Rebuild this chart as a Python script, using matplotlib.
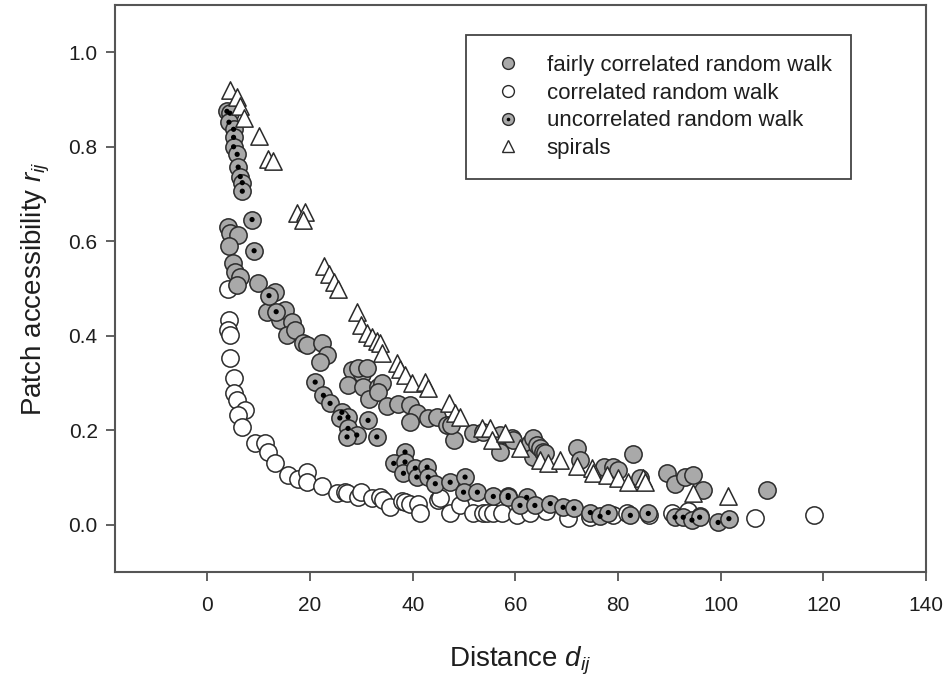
import matplotlib
matplotlib.use("Agg")
import matplotlib.pyplot as plt
from matplotlib.lines import Line2D
from matplotlib.legend_handler import HandlerTuple

plt.rcParams['font.family'] = ['Liberation Sans', 'DejaVu Sans']
plt.rcParams['mathtext.fontset'] = 'custom'
plt.rcParams['mathtext.rm'] = 'Liberation Sans'
plt.rcParams['mathtext.it'] = 'Liberation Sans:italic'

# fairly correlated random walk
fcrw_d = [4.0, 4.4, 6.0, 4.2, 5.0, 5.4, 6.4, 5.8, 9.9, 13.2, 11.6, 14.2, 15.2, 16.5,
          15.5, 17.1, 18.7, 19.4, 22.4, 23.3, 21.9, 28.2, 30.1, 29.4, 31.1, 27.4,
          30.3, 33.3, 34.0, 31.4, 33.3, 35.0, 37.2, 39.5, 40.8, 39.5, 43.0, 44.7,
          46.7, 48.0, 47.5, 51.8, 53.7, 57.0, 57.0, 59.3, 59.6, 62.9, 63.5, 63.5,
          64.2, 64.8, 65.4, 65.8, 72.0, 72.6, 77.2, 79.1, 80.0, 83.0, 84.3, 89.5,
          91.1, 93.0, 94.6, 96.5, 109.0]
fcrw_r = [0.631, 0.618, 0.614, 0.589, 0.555, 0.536, 0.525, 0.508, 0.512, 0.493,
          0.451, 0.434, 0.455, 0.430, 0.402, 0.413, 0.385, 0.380, 0.385, 0.360,
          0.345, 0.328, 0.320, 0.332, 0.332, 0.296, 0.292, 0.292, 0.300, 0.266,
          0.281, 0.252, 0.255, 0.253, 0.236, 0.218, 0.225, 0.228, 0.211, 0.180,
          0.211, 0.194, 0.196, 0.190, 0.154, 0.183, 0.180, 0.173, 0.143, 0.183,
          0.169, 0.162, 0.154, 0.151, 0.162, 0.137, 0.122, 0.122, 0.115, 0.150,
          0.100, 0.109, 0.087, 0.102, 0.105, 0.073, 0.073]

# correlated random walk
crw_d = [4.1, 4.2, 4.1, 4.4, 4.4, 5.1, 5.1, 5.8, 7.4, 6.0, 6.8, 9.3, 11.2, 11.8,
         13.2, 15.7, 17.6, 19.4, 19.4, 22.4, 25.2, 26.8, 27.2, 29.3, 30.0, 32.1,
         33.6, 34.3, 35.6, 37.9, 38.5, 39.5, 41.1, 41.4, 45.0, 45.4, 47.3, 49.3,
         51.8, 53.7, 54.5, 55.7, 57.4, 60.4, 62.8, 66.0, 70.3, 74.6, 79.1, 81.8,
         86.0, 90.5, 93.7, 96.0, 106.7, 118.2]
crw_r = [0.500, 0.434, 0.413, 0.402, 0.353, 0.311, 0.279, 0.264, 0.243, 0.232,
         0.207, 0.173, 0.173, 0.154, 0.130, 0.105, 0.098, 0.111, 0.090, 0.083,
         0.067, 0.069, 0.067, 0.058, 0.069, 0.056, 0.058, 0.052, 0.037, 0.051,
         0.048, 0.045, 0.045, 0.026, 0.052, 0.056, 0.026, 0.041, 0.026, 0.026,
         0.026, 0.026, 0.024, 0.020, 0.024, 0.030, 0.014, 0.016, 0.020, 0.024,
         0.020, 0.024, 0.030, 0.018, 0.014, 0.020]

# uncorrelated random walk
urw_d = [3.8, 4.4, 4.2, 5.1, 5.1, 5.1, 5.8, 6.0, 6.4, 6.8, 6.8, 8.7, 9.1, 12.0,
         13.4, 21.0, 22.6, 23.9, 26.2, 27.4, 25.8, 27.4, 29.1, 27.2, 31.3, 33.0,
         38.5, 36.3, 38.5, 38.2, 40.5, 40.8, 42.8, 43.0, 44.4, 47.3, 50.2, 49.9,
         52.6, 55.7, 58.6, 58.6, 62.2, 60.9, 63.8, 66.8, 69.3, 71.4, 74.6, 76.5,
         78.1, 82.4, 85.9, 91.1, 92.7, 94.4, 95.9, 99.5, 101.6]
urw_r = [0.875, 0.871, 0.852, 0.837, 0.820, 0.800, 0.784, 0.757, 0.737, 0.724,
         0.706, 0.646, 0.580, 0.485, 0.451, 0.302, 0.274, 0.257, 0.238, 0.228,
         0.226, 0.204, 0.190, 0.186, 0.221, 0.186, 0.154, 0.130, 0.133, 0.109,
         0.120, 0.101, 0.122, 0.101, 0.087, 0.090, 0.101, 0.069, 0.069, 0.060,
         0.062, 0.058, 0.058, 0.041, 0.041, 0.045, 0.037, 0.035, 0.026, 0.018,
         0.026, 0.020, 0.024, 0.016, 0.016, 0.010, 0.016, 0.005, 0.013]

# spirals
spi_d = [4.4, 5.7, 6.4, 7.2, 10.1, 11.8, 12.8, 17.5, 19.1, 18.7, 22.7, 23.6, 24.6,
         25.5, 29.1, 30.0, 31.0, 32.0, 33.0, 33.6, 34.0, 36.9, 37.5, 38.5, 39.8,
         42.4, 43.0, 47.1, 48.3, 49.3, 53.5, 55.1, 55.4, 58.0, 60.9, 64.8, 66.4,
         68.7, 72.0, 74.9, 75.2, 77.9, 80.0, 82.0, 84.9, 85.3, 94.6, 101.5]
spi_r = [0.920, 0.905, 0.886, 0.860, 0.822, 0.774, 0.770, 0.660, 0.663, 0.646,
         0.547, 0.530, 0.514, 0.500, 0.450, 0.423, 0.405, 0.398, 0.390, 0.385,
         0.363, 0.342, 0.330, 0.317, 0.300, 0.302, 0.290, 0.257, 0.236, 0.228,
         0.204, 0.204, 0.180, 0.194, 0.162, 0.137, 0.130, 0.137, 0.124, 0.120,
         0.109, 0.105, 0.100, 0.090, 0.100, 0.090, 0.067, 0.060]

xticks = [0, 20, 40, 60, 80, 100, 120, 140]
yticks = [0.0, 0.2, 0.4, 0.6, 0.8, 1.0]

grey = '#a9a9a9'
edge = '#2b2b2b'
txt = '#1e1e1e'

fig = plt.figure(figsize=(9.48, 6.77), dpi=100)
ax = fig.add_axes([0.1213, 0.155, 0.8555, 0.8376])

ms = 155
ax.scatter(crw_d, crw_r, s=ms, marker='o', facecolor='white', edgecolor=edge,
           linewidth=1.1, zorder=2)
ax.scatter(fcrw_d, fcrw_r, s=ms, marker='o', facecolor=grey, edgecolor=edge,
           linewidth=1.1, zorder=3)
ax.scatter(urw_d, urw_r, s=ms, marker='o', facecolor=grey, edgecolor=edge,
           linewidth=1.1, zorder=4)
ax.scatter(urw_d, urw_r, s=14, marker='o', facecolor='black', edgecolor='none',
           zorder=4)
ax.scatter(spi_d, spi_r, s=ms, marker='^', facecolor='white', edgecolor=edge,
           linewidth=1.1, zorder=5)

ax.set_xlim(-18, 140)
ax.set_ylim(-0.1, 1.1)
ax.set_xticks(xticks)
ax.set_yticks(yticks)
ax.set_yticklabels(['%.1f' % v for v in yticks])

for sp in ax.spines.values():
    sp.set_color('#555555')
    sp.set_linewidth(1.5)
ax.tick_params(direction='out', length=6.5, width=1.3, color='#555555',
               labelsize=15, labelcolor=txt)
ax.tick_params(axis='x', pad=11)
ax.tick_params(axis='y', pad=6)

ax.set_xlabel(r'Distance $\it{d}_{ij}$', fontsize=20, color=txt, labelpad=21)
ax.set_ylabel(r'Patch accessibility $\it{r}_{ij}$', fontsize=20, color=txt,
              labelpad=12)

# legend entries
h_f = Line2D([], [], ls='none', marker='o', ms=8.5, mfc=grey, mec=edge, mew=1.0)
h_c = Line2D([], [], ls='none', marker='o', ms=8.5, mfc='white', mec=edge, mew=1.0)
h_u = Line2D([], [], ls='none', marker='o', ms=8.5, mfc=grey, mec=edge, mew=1.0)
h_dot = Line2D([], [], ls='none', marker='o', ms=2.6, mfc='black', mec='none')
h_s = Line2D([], [], ls='none', marker='^', ms=8.5, mfc='white', mec=edge, mew=1.0)

leg = ax.legend([h_f, h_c, (h_u, h_dot), h_s],
                ['fairly correlated random walk', 'correlated random walk',
                 'uncorrelated random walk', 'spirals'],
                handler_map={tuple: HandlerTuple(ndivide=1, pad=0)},
                loc='upper left', bbox_to_anchor=(0.433, 0.947),
                fontsize=16, frameon=True, fancybox=False, framealpha=1,
                edgecolor='#444444', borderpad=0.9, labelspacing=0.3,
                handlelength=2.0, handletextpad=0.72, borderaxespad=0)
leg.get_frame().set_linewidth(1.3)
for t in leg.get_texts():
    t.set_color(txt)

fig.savefig('out.png', dpi=100)
